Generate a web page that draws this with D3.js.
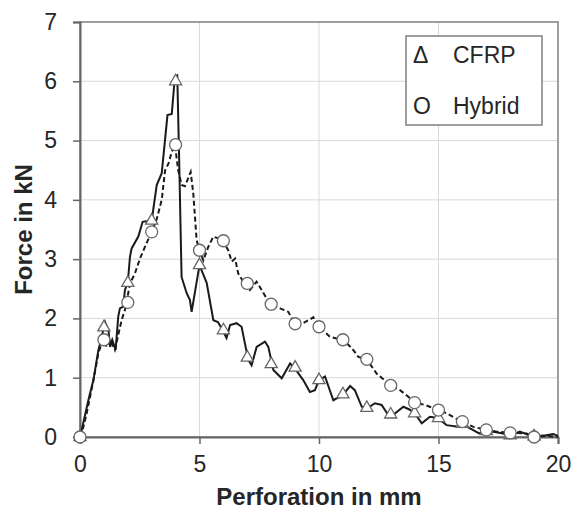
<!DOCTYPE html>
<html lang="en">
<head>
    <meta charset="UTF-8">
    <title>Force vs perforation</title>
    <script src="https://cdn.jsdelivr.net/npm/d3@7/dist/d3.min.js"></script>
    <style>
        body { margin: 0; background: #fff; }
        text { font-family: "Liberation Sans", Arial, sans-serif; fill: #262626; }
    </style>
</head>
<body>
<script>

    // CFRP curve (solid line)
    var cfrpX = [0, 0.07, 0.35, 0.56, 0.77, 0.88, 1.05, 1.19, 1.26, 1.35, 1.49, 1.6, 1.67, 1.81, 1.88, 2.0, 2.09, 2.16,
        2.44, 2.62, 3.0, 3.21, 3.42, 3.66, 3.84, 3.97, 4.07, 4.15, 4.25, 4.46, 4.6, 4.67, 5.0, 5.3, 5.58, 5.77, 5.97,
        6.13, 6.28, 6.55, 6.76, 6.9, 7.04, 7.18, 7.39, 7.74, 7.88, 8.09, 8.44, 8.79, 8.98, 9.34, 9.62, 9.83, 10.0,
        10.25, 10.6, 11.0, 11.3, 11.5, 11.79, 12.0, 12.34, 12.62, 12.9, 13.1, 13.53, 13.8, 14.0, 14.3, 14.64, 14.96,
        15.34, 15.9, 16.1, 16.3, 16.7, 17.0, 17.3, 17.7, 18.0, 18.4, 18.8, 19.0, 19.5, 19.8, 20];
    var cfrpY = [0, 0.12, 0.62, 0.96, 1.47, 1.64, 1.94, 1.8, 1.52, 1.64, 1.47, 2.03, 2.17, 2.2, 2.48, 2.6, 3.04, 3.18,
        3.38, 3.63, 3.65, 4.25, 4.45, 5.43, 5.45, 6.08, 6.1, 4.67, 2.7, 2.43, 2.31, 2.11, 2.9, 2.6, 1.97, 1.94, 1.8,
        1.67, 1.89, 1.92, 1.86, 1.58, 1.3, 1.21, 1.52, 1.61, 1.52, 1.13, 0.99, 1.24, 1.16, 0.96, 0.76, 0.79, 0.96,
        1.02, 0.62, 0.71, 0.86, 0.79, 0.51, 0.48, 0.57, 0.54, 0.37, 0.37, 0.51, 0.46, 0.4, 0.23, 0.34, 0.32,
        0.2, 0.17, 0.2, 0.15, 0.06, 0.1, 0.09, 0.06, 0.02, 0.09, 0.03, 0.01, 0.03, 0.05, 0.02];

    // Hybrid curve (dashed line)
    var hybX = [0, 0.14, 0.28, 0.56, 0.77, 0.97, 1.12, 1.26, 1.46, 1.6, 1.74, 1.88, 1.95, 2.09, 2.3, 2.51, 2.72, 3.0,
        3.2, 3.42, 3.56, 3.7, 3.84, 3.97, 4.11, 4.25, 4.39, 4.63, 4.74, 4.88, 5.0, 5.16, 5.37, 5.58, 5.97, 6.2, 6.35,
        6.49, 6.62, 6.83, 6.97, 7.11, 7.39, 7.6, 7.95, 8.37, 8.72, 8.97, 9.34, 9.69, 9.76, 10.0, 10.46, 10.74, 11.0,
        11.37, 11.65, 12.0, 12.41, 13.0, 13.39, 13.74, 14.0, 14.44, 15.0, 15.34, 15.69, 16.0, 16.46, 17.0, 17.43,
        18.0, 18.27, 18.68, 19.0, 19.5, 20];
    var hybY = [0, 0.17, 0.4, 0.95, 1.42, 1.65, 1.52, 1.64, 1.47, 1.72, 1.97, 2.14, 2.27, 2.59, 2.76, 3.01, 3.21, 3.46,
        3.66, 4.0, 4.5, 4.61, 4.81, 4.93, 4.5, 4.25, 4.23, 4.47, 4.11, 3.32, 3.15, 2.98, 3.21, 3.38, 3.32, 3.15, 2.96,
        3.01, 2.76, 2.62, 2.6, 2.48, 2.62, 2.48, 2.24, 2.17, 2.11, 1.91, 1.92, 2.0, 2.02, 1.86, 1.69, 1.66, 1.64,
        1.5, 1.35, 1.31, 1.07, 0.87, 0.79, 0.68, 0.58, 0.54, 0.455, 0.4, 0.32, 0.26, 0.17, 0.12, 0.09,
        0.07, 0.07, 0.06, 0.0, 0.02, 0.0];

    // marker positions (every 1 mm)
    var markX = [0, 1, 2, 3, 4, 5, 6, 7, 8, 9, 10, 11, 12, 13, 14, 15, 16, 17, 18, 19];
    var cfrpMarkY = [0, 1.85, 2.6, 3.65, 6.0, 2.9, 1.8, 1.34, 1.23, 1.17, 0.96, 0.72, 0.49, 0.38, 0.4, 0.32, 0.22, 0.1, 0.03, 0.01];
    var hybMarkY = [0, 1.64, 2.27, 3.46, 4.93, 3.15, 3.31, 2.59, 2.24, 1.91, 1.86, 1.64, 1.31, 0.87, 0.58, 0.455, 0.26, 0.12, 0.07, 0.0];

    var xTicks = [0, 5, 10, 15, 20];
    var yTicks = [0, 1, 2, 3, 4, 5, 6, 7];

    // 画布
    var width = 577;
    var height = 514;
    var mLeft = 80, mRight = 558, mTop = 22, mBottom = 437;

    var svg = d3.select("body")
        .append("svg")
        .attr("width", width)
        .attr("height", height);

    var x = d3.scaleLinear().domain([0, 20]).range([mLeft, mRight]);
    var y = d3.scaleLinear().domain([0, 7]).range([mBottom, mTop]);

    // 网格
    svg.append("g")
        .selectAll("line")
        .data(xTicks.slice(1, -1))
        .enter()
        .append("line")
        .attr("x1", function (d) { return x(d); })
        .attr("x2", function (d) { return x(d); })
        .attr("y1", mTop)
        .attr("y2", mBottom)
        .attr("stroke", "#d9d9d9")
        .attr("stroke-width", 1);

    svg.append("g")
        .selectAll("line")
        .data(yTicks.slice(1, -1))
        .enter()
        .append("line")
        .attr("x1", mLeft)
        .attr("x2", mRight)
        .attr("y1", function (d) { return y(d); })
        .attr("y2", function (d) { return y(d); })
        .attr("stroke", "#d9d9d9")
        .attr("stroke-width", 1);

    // 边框
    svg.append("rect")
        .attr("x", mLeft)
        .attr("y", mTop)
        .attr("width", mRight - mLeft)
        .attr("height", mBottom - mTop)
        .attr("fill", "none")
        .attr("stroke", "#7f7f7f")
        .attr("stroke-width", 1.5);

    // 坐标轴
    var xAxis = d3.axisBottom(x).tickValues(xTicks).tickFormat(d3.format("d")).tickSize(7).tickPadding(12);
    var yAxis = d3.axisLeft(y).tickValues(yTicks).tickFormat(d3.format("d")).tickSize(7).tickPadding(16);

    var gx = svg.append("g")
        .attr("transform", "translate(0," + mBottom + ")")
        .call(xAxis);
    var gy = svg.append("g")
        .attr("transform", "translate(" + mLeft + ",0)")
        .call(yAxis);

    [gx, gy].forEach(function (g) {
        g.select(".domain").attr("stroke", "#666").attr("stroke-width", 2);
        g.selectAll(".tick line").attr("stroke", "#666").attr("stroke-width", 1.5);
        g.selectAll(".tick text")
            .style("font-size", "23px")
            .style("font-family", "'Liberation Sans', Arial, sans-serif")
            .attr("fill", "#262626");
    });

    // 曲线
    var line = d3.line()
        .x(function (d) { return x(d[0]); })
        .y(function (d) { return y(d[1]); });

    svg.append("path")
        .datum(d3.zip(hybX, hybY))
        .attr("d", line)
        .attr("fill", "none")
        .attr("stroke", "#1a1a1a")
        .attr("stroke-width", 2)
        .attr("stroke-dasharray", "5,3");

    svg.append("path")
        .datum(d3.zip(cfrpX, cfrpY))
        .attr("d", line)
        .attr("fill", "none")
        .attr("stroke", "#1a1a1a")
        .attr("stroke-width", 2);

    // 标记
    var tri = d3.symbol().type(d3.symbolTriangle).size(64);

    svg.append("g")
        .selectAll("path")
        .data(d3.zip(markX, cfrpMarkY))
        .enter()
        .append("path")
        .attr("d", tri)
        .attr("transform", function (d) { return "translate(" + x(d[0]) + "," + y(d[1]) + ")"; })
        .attr("fill", "#fff")
        .attr("stroke", "#666")
        .attr("stroke-width", 1.3);

    svg.append("g")
        .selectAll("circle")
        .data(d3.zip(markX, hybMarkY))
        .enter()
        .append("circle")
        .attr("cx", function (d) { return x(d[0]); })
        .attr("cy", function (d) { return y(d[1]); })
        .attr("r", 6)
        .attr("fill", "#fff")
        .attr("stroke", "#666")
        .attr("stroke-width", 1.3);

    // 轴标题
    svg.append("text")
        .attr("x", (mLeft + mRight) / 2)
        .attr("y", 505)
        .attr("text-anchor", "middle")
        .style("font-size", "24px")
        .style("font-weight", "bold")
        .text("Perforation in mm");

    svg.append("text")
        .attr("transform", "translate(32," + (mTop + mBottom) / 2 + ") rotate(-90)")
        .attr("text-anchor", "middle")
        .style("font-size", "24px")
        .style("font-weight", "bold")
        .text("Force in kN");

    // 图例
    svg.append("rect")
        .attr("x", 406)
        .attr("y", 36)
        .attr("width", 136)
        .attr("height", 89)
        .attr("fill", "#fff")
        .attr("stroke", "#7f7f7f")
        .attr("stroke-width", 1.5);

    var legendItems = [["Δ", "CFRP", 63], ["O", "Hybrid", 114]];
    legendItems.forEach(function (d) {
        svg.append("text").attr("x", 413).attr("y", d[2]).style("font-size", "23px").text(d[0]);
        svg.append("text").attr("x", 453).attr("y", d[2]).style("font-size", "23px").text(d[1]);
    });

</script>
</body>
</html>
